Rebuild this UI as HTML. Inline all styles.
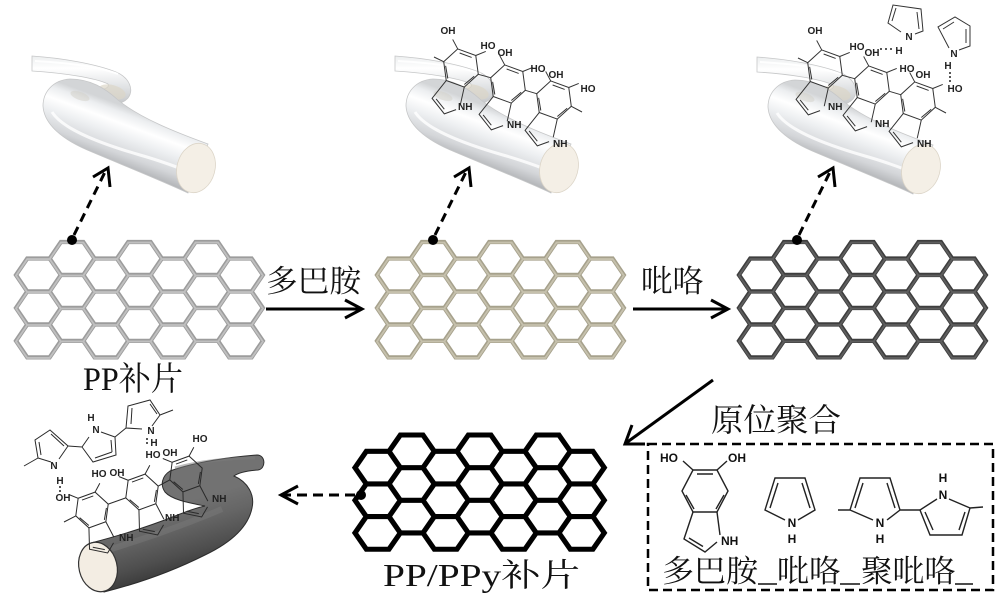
<!DOCTYPE html>
<html><head><meta charset="utf-8"><style>
html,body{margin:0;padding:0;background:#fff;}
svg{display:block;}
.cj{font-family:"Liberation Serif","Noto Serif CJK SC",serif;fill:#111;}
.m{font-family:"Liberation Sans",sans-serif;font-weight:bold;font-size:10px;fill:#222;}
.ml{font-family:"Liberation Sans",sans-serif;font-weight:bold;font-size:12px;fill:#111;}
</style></head><body>
<svg width="1000" height="605" viewBox="0 0 1000 605" xmlns="http://www.w3.org/2000/svg" xmlns:xlink="http://www.w3.org/1999/xlink">
<defs>
<linearGradient id="gBack" gradientUnits="userSpaceOnUse" x1="0" y1="56" x2="0" y2="106">
<stop offset="0" stop-color="#eceeef"/><stop offset="0.25" stop-color="#ffffff"/><stop offset="0.6" stop-color="#e2e4e6"/><stop offset="1" stop-color="#c2c4c6"/></linearGradient>
<linearGradient id="gFront" gradientUnits="userSpaceOnUse" x1="140" y1="112" x2="120" y2="166">
<stop offset="0" stop-color="#d3d5d7"/><stop offset="0.12" stop-color="#eceef0"/><stop offset="0.3" stop-color="#ffffff"/><stop offset="0.5" stop-color="#eef0f2"/><stop offset="0.8" stop-color="#d4d6d9"/><stop offset="1" stop-color="#b4b6b9"/></linearGradient>
<linearGradient id="gDark" gradientUnits="userSpaceOnUse" x1="150" y1="512" x2="170" y2="580">
<stop offset="0" stop-color="#727272"/><stop offset="0.3" stop-color="#666"/><stop offset="0.7" stop-color="#4e4e4e"/><stop offset="1" stop-color="#363636"/></linearGradient>

<g id="tube">
<path d="M32,56 C62,58 96,64 116,72 C130,78 134,90 128,98 C122,105 108,106 98,103 L94,90 C104,90 110,88 108,84 C96,78 64,73 32,71 Z" fill="url(#gBack)" stroke="#c6c7c8" stroke-width="0.8"/>
<ellipse cx="112" cy="92" rx="14" ry="7" transform="rotate(15 112 92)" fill="#dcd6c8" opacity="0.7"/>
<path d="M118,100 C105,88 90,79 70,79 C53,80 43,92 43,106 C44,124 62,140 92,152 C125,166 160,180 188,193 L208,144 C175,132 140,118 118,100 Z" fill="url(#gFront)" stroke="#c6c7c8" stroke-width="0.8"/>
<ellipse cx="80" cy="96" rx="10" ry="4" transform="rotate(20 80 96)" fill="#d2d0c8" opacity="0.5"/>
<path d="M35,61 C70,63 100,67 118,74" stroke="#fff" stroke-width="2" fill="none" opacity="0.9"/>
<path d="M52,112 C62,128 95,142 140,155 C165,162 185,170 200,176" stroke="#fff" stroke-width="3" fill="none" opacity="0.8"/>
<ellipse cx="196" cy="168" rx="19" ry="25" transform="rotate(15 196 168)" fill="#f4efe6" stroke="#dcd5c8" stroke-width="0.8"/>
</g>

<g id="dhi" fill="none">
<path d="M-12,-21 L12,-21 L23,0 L12,21 L-12,21 L-23,0 Z"/>
<path d="M-12,21 L-21,48 L0,61 L12,51 M12,21 L15,44"/>
<path d="M-8,-17 L8,-17 M-19,4 L-11,18 M19,4 L11,18 M-16,47 L-2,55.5"/>
<path d="M-12,-21 L-22,-30 M12,-21 L22,-30"/>
</g>

<g id="hex" fill="none">
<path d="M0,32 L11,16 L33,16 L44,32 L33,48 L11,48 Z M0,64 L11,48 L33,48 L44,64 L33,80 L11,80 Z M0,96 L11,80 L33,80 L44,96 L33,112 L11,112 Z M33,16 L44,0 L66,0 L77,16 L66,32 L44,32 Z M33,48 L44,32 L66,32 L77,48 L66,64 L44,64 Z M33,80 L44,64 L66,64 L77,80 L66,96 L44,96 Z M66,32 L77,16 L99,16 L110,32 L99,48 L77,48 Z M66,64 L77,48 L99,48 L110,64 L99,80 L77,80 Z M66,96 L77,80 L99,80 L110,96 L99,112 L77,112 Z M99,16 L110,0 L132,0 L143,16 L132,32 L110,32 Z M99,48 L110,32 L132,32 L143,48 L132,64 L110,64 Z M99,80 L110,64 L132,64 L143,80 L132,96 L110,96 Z M132,32 L143,16 L165,16 L176,32 L165,48 L143,48 Z M132,64 L143,48 L165,48 L176,64 L165,80 L143,80 Z M132,96 L143,80 L165,80 L176,96 L165,112 L143,112 Z M165,16 L176,0 L198,0 L209,16 L198,32 L176,32 Z M165,48 L176,32 L198,32 L209,48 L198,64 L176,64 Z M165,80 L176,64 L198,64 L209,80 L198,96 L176,96 Z M198,32 L209,16 L231,16 L242,32 L231,48 L209,48 Z M198,64 L209,48 L231,48 L242,64 L231,80 L209,80 Z M198,96 L209,80 L231,80 L242,96 L231,112 L209,112 Z"/>
</g>
</defs>

<rect width="1000" height="605" fill="#fff"/>

<!-- fibers top -->
<use href="#tube" xlink:href="#tube"/>
<use href="#tube" xlink:href="#tube" transform="translate(363,0)"/>
<use href="#tube" xlink:href="#tube" transform="translate(725,1)"/>

<!-- fiber molecules -->
<g stroke="#333" stroke-width="1.25">
<use href="#dhi" xlink:href="#dhi" transform="translate(461,68) rotate(20) scale(0.8)"/>
<use href="#dhi" xlink:href="#dhi" transform="translate(508,84) rotate(20) scale(0.8)"/>
<use href="#dhi" xlink:href="#dhi" transform="translate(554,100) rotate(20) scale(0.8)"/>
<use href="#dhi" xlink:href="#dhi" transform="translate(825,69) rotate(20) scale(0.8)"/>
<use href="#dhi" xlink:href="#dhi" transform="translate(872,85) rotate(20) scale(0.8)"/>
<use href="#dhi" xlink:href="#dhi" transform="translate(918,101) rotate(20) scale(0.8)"/>
</g>
<g stroke="#333" stroke-width="1" fill="none">
<path d="M478.3,74.3 L490.7,77.7 M525.3,90.3 L536.7,93.7 M443.7,61.7 L434,57 M571.3,106.3 L582,112"/>
<path d="M842.3,75.3 L854.7,78.7 M889.3,91.3 L900.7,94.7 M807.7,62.7 L798,58 M935.3,107.3 L946,113"/>
<path d="M901,32 L888,23 L893,5 L921,9 L923,31 L915,34 M892,21 L896,8 M917,12 L919,29"/>
<path d="M949,48 L938,27 L955,17 L970,26 L970,46 L959,50 M943,29 L954,22 M966,29 L966,43"/>
</g>
<g class="m">
<text x="448" y="34" text-anchor="middle">OH</text>
<text x="488" y="49" text-anchor="middle">HO</text>
<text x="505" y="56" text-anchor="middle">OH</text>
<text x="538" y="72" text-anchor="middle">HO</text>
<text x="556" y="78" text-anchor="middle">OH</text>
<text x="588" y="92" text-anchor="middle">HO</text>
<text x="458" y="110">NH</text>
<text x="507" y="128">NH</text>
<text x="553" y="147">NH</text>

<text x="815" y="34" text-anchor="middle">OH</text>
<text x="857" y="50" text-anchor="middle">HO</text>
<text x="872" y="56" text-anchor="middle">OH</text>
<text x="907" y="72" text-anchor="middle">HO</text>
<text x="923" y="78" text-anchor="middle">OH</text>
<text x="955" y="92" text-anchor="middle">HO</text>
<text x="828" y="110">NH</text>
<text x="875" y="127">NH</text>
<text x="917" y="147">NH</text>
<text x="909" y="40" text-anchor="middle">N</text>
<text x="899" y="54" text-anchor="middle">H</text>
<text x="954" y="57" text-anchor="middle">N</text>
<text x="948" y="69" text-anchor="middle">H</text>
</g>
<g fill="#222">
<circle cx="881" cy="49" r="1"/><circle cx="886" cy="49" r="1"/><circle cx="891" cy="49" r="1"/>
<circle cx="950" cy="73" r="1"/><circle cx="950" cy="77" r="1"/><circle cx="950" cy="81" r="1"/>
</g>

<!-- bottom-left dark fiber -->
<path d="M91,543 C118,536 150,526 175,516 C190,510 200,507 205,506 C190,503 172,500 165,492 C160,485 162,476 170,471 C195,462 230,457 257,455 C266,455 266,469 258,470 C245,471 238,473 234,476 C248,482 255,495 252,508 C248,528 230,543 205,555 C175,570 140,583 104,592 Z" fill="url(#gDark)" stroke="#2c2c2c" stroke-width="1"/>
<path d="M105,551 C140,540 180,527 222,509" stroke="#7c7c7c" stroke-width="6" fill="none" opacity="0.45"/>
<path d="M175,468 C200,461 230,458 255,458" stroke="#7c7c7c" stroke-width="3" fill="none" opacity="0.5"/>
<ellipse cx="98" cy="567" rx="19" ry="25" transform="rotate(-14 98 567)" fill="#f3ede3" stroke="#333" stroke-width="1.2"/>

<g stroke="#2a2a2a" stroke-width="1.33">
<use href="#dhi" xlink:href="#dhi" transform="translate(92,510) rotate(-20) scale(0.75)"/>
<use href="#dhi" xlink:href="#dhi" transform="translate(142,492) rotate(-20) scale(0.75)"/>
<use href="#dhi" xlink:href="#dhi" transform="translate(186,474) rotate(-20) scale(0.75)"/>
</g>
<g stroke="#2a2a2a" stroke-width="1" fill="none">
<path d="M108.2,504.1 L125.8,497.9 M158.2,486.1 L169.8,479.9 M75.8,515.9 L64,522"/>
<path d="M59,459 L68,446 L50,430 L35,440 L38,458 L51,462 M39,442 L41,455 M51,434 L64,446 M38,458 L24,466"/>
<path d="M68,446 L82,447 L89,437 M101,432 L115,437 L116,455 L93,462 L82,447 M112,452 L95,458 M111,440 L112,452"/>
<path d="M115,437 L126,428 L128,406 L150,400 L160,415 L152,426 M126,428 L142,429 M131,424 L132,408 M150,404 L157,414 M160,415 L173,410"/>
</g>
<g class="m">
<text x="54" y="469" text-anchor="middle">N</text>
<text x="60" y="484" text-anchor="middle">H</text>
<text x="63" y="501" text-anchor="middle">OH</text>
<text x="91" y="421" text-anchor="middle">H</text>
<text x="96" y="433" text-anchor="middle">N</text>
<text x="151" y="434" text-anchor="middle">N</text>
<text x="154" y="446" text-anchor="middle">H</text>
<text x="153" y="458" text-anchor="middle">HO</text>
<text x="170" y="456" text-anchor="middle">OH</text>
<text x="99" y="477" text-anchor="middle">HO</text>
<text x="117" y="476" text-anchor="middle">OH</text>
<text x="200" y="442" text-anchor="middle">HO</text>
<text x="119" y="541">NH</text>
<text x="165" y="521">NH</text>
<text x="212" y="502">NH</text>
</g>
<g fill="#222">
<circle cx="60" cy="487" r="1"/><circle cx="60" cy="491" r="1"/>
<circle cx="147" cy="439" r="1"/><circle cx="147" cy="443" r="1"/>
</g>

<!-- grids -->
<use href="#hex" xlink:href="#hex" transform="translate(16,242) scale(1.02,1.03)" stroke="#9c9c9c" stroke-width="4.2"/>
<use href="#hex" xlink:href="#hex" transform="translate(16,242.6) scale(1.02,1.03)" stroke="#c0c0c0" stroke-width="1.8"/>
<use href="#hex" xlink:href="#hex" transform="translate(377,242) scale(1.02,1.03)" stroke="#a6a18c" stroke-width="4.2"/>
<use href="#hex" xlink:href="#hex" transform="translate(377,242.6) scale(1.02,1.03)" stroke="#c6c1ad" stroke-width="1.8"/>
<use href="#hex" xlink:href="#hex" transform="translate(739,242) scale(1.02,1.03)" stroke="#3e3e3e" stroke-width="4.2"/>
<use href="#hex" xlink:href="#hex" transform="translate(739,242.6) scale(1.02,1.03)" stroke="#5e5e5e" stroke-width="1.8"/>
<use href="#hex" xlink:href="#hex" transform="translate(355,435) scale(1.03,1.02)" stroke="#000" stroke-width="5"/>

<!-- dots and dashed arrows -->
<g fill="#000">
<circle cx="72" cy="240" r="5"/><circle cx="433" cy="240" r="5"/><circle cx="797" cy="240" r="5"/><circle cx="361" cy="495" r="5"/>
</g>
<g stroke="#000" stroke-width="3" fill="none">
<path d="M74,235 L105,172" stroke-dasharray="9 6"/>
<path d="M93,177 L108,168 L110,187"/>
<path d="M435,235 L466,172" stroke-dasharray="9 6"/>
<path d="M454,177 L469,168 L471,187"/>
<path d="M799,235 L830,172" stroke-dasharray="9 6"/>
<path d="M818,177 L833,168 L835,187"/>
<path d="M355,495 L284,495" stroke-dasharray="10 6"/>
<path d="M298,486 L281,495 L298,504"/>
</g>

<!-- solid arrows -->
<g stroke="#000" stroke-width="3" fill="none">
<path d="M266,309 L360,309"/>
<path d="M345,300 L362,309 L345,318"/>
<path d="M633,309 L726,309"/>
<path d="M711,300 L728,309 L711,318"/>
<path d="M713,380 L626,443"/>
<path d="M645,444 L625,444 L632,425"/>
</g>

<!-- legend box -->
<rect x="648" y="444" width="345" height="146" fill="none" stroke="#000" stroke-width="2.5" stroke-dasharray="9 5"/>
<g stroke="#222" stroke-width="1.4" fill="none">
<use href="#dhi" xlink:href="#dhi" transform="translate(705,491)"/>
<path d="M785,520 L765,510 L775,478 L805,478 L815,510 L798,520 M770,508 L778,483 M810,508 L802,483"/>
<path d="M873,520 L850,510 L860,478 L890,478 L900,510 L887,520 M855,508 L863,483 M895,508 L887,483 M850,510 L838,510 M900,510 L920,510"/>
<path d="M937,499 L920,510 L930,535 L962,535 L970,508 L949,499 M925,512 L933,530 M965,512 L959,530 M970,508 L983,507"/>
</g>
<g class="ml">
<text x="669" y="462" text-anchor="middle">HO</text>
<text x="737" y="462" text-anchor="middle">OH</text>
<text x="721" y="545">NH</text>
<text x="792" y="527" text-anchor="middle">N</text>
<text x="792" y="543" text-anchor="middle">H</text>
<text x="880" y="527" text-anchor="middle">N</text>
<text x="880" y="543" text-anchor="middle">H</text>
<text x="943" y="482" text-anchor="middle">H</text>
<text x="943" y="499" text-anchor="middle">N</text>
</g>

<!-- labels -->
<g class="cj">
<text x="266" y="292" font-size="31" textLength="95" lengthAdjust="spacingAndGlyphs">多巴胺</text>
<text x="641" y="292" font-size="31" textLength="63" lengthAdjust="spacingAndGlyphs">吡咯</text>
<text x="83" y="390" font-size="33" textLength="100" lengthAdjust="spacingAndGlyphs">PP补片</text>
<text x="711" y="431" font-size="32" textLength="130" lengthAdjust="spacingAndGlyphs">原位聚合</text>
<text x="383" y="586" font-size="32" textLength="197" lengthAdjust="spacingAndGlyphs">PP/PPy补片</text>
<text x="662" y="582" font-size="31" textLength="96" lengthAdjust="spacingAndGlyphs">多巴胺</text>
<text x="777" y="582" font-size="31" textLength="64" lengthAdjust="spacingAndGlyphs">吡咯</text>
<text x="861" y="582" font-size="31" textLength="95" lengthAdjust="spacingAndGlyphs">聚吡咯</text>
</g>
<g stroke="#111" stroke-width="1.5">
<path d="M758,584 L777,584 M840,584 L860,584 M955,584 L973,584"/>
</g>
</svg>
</body></html>
